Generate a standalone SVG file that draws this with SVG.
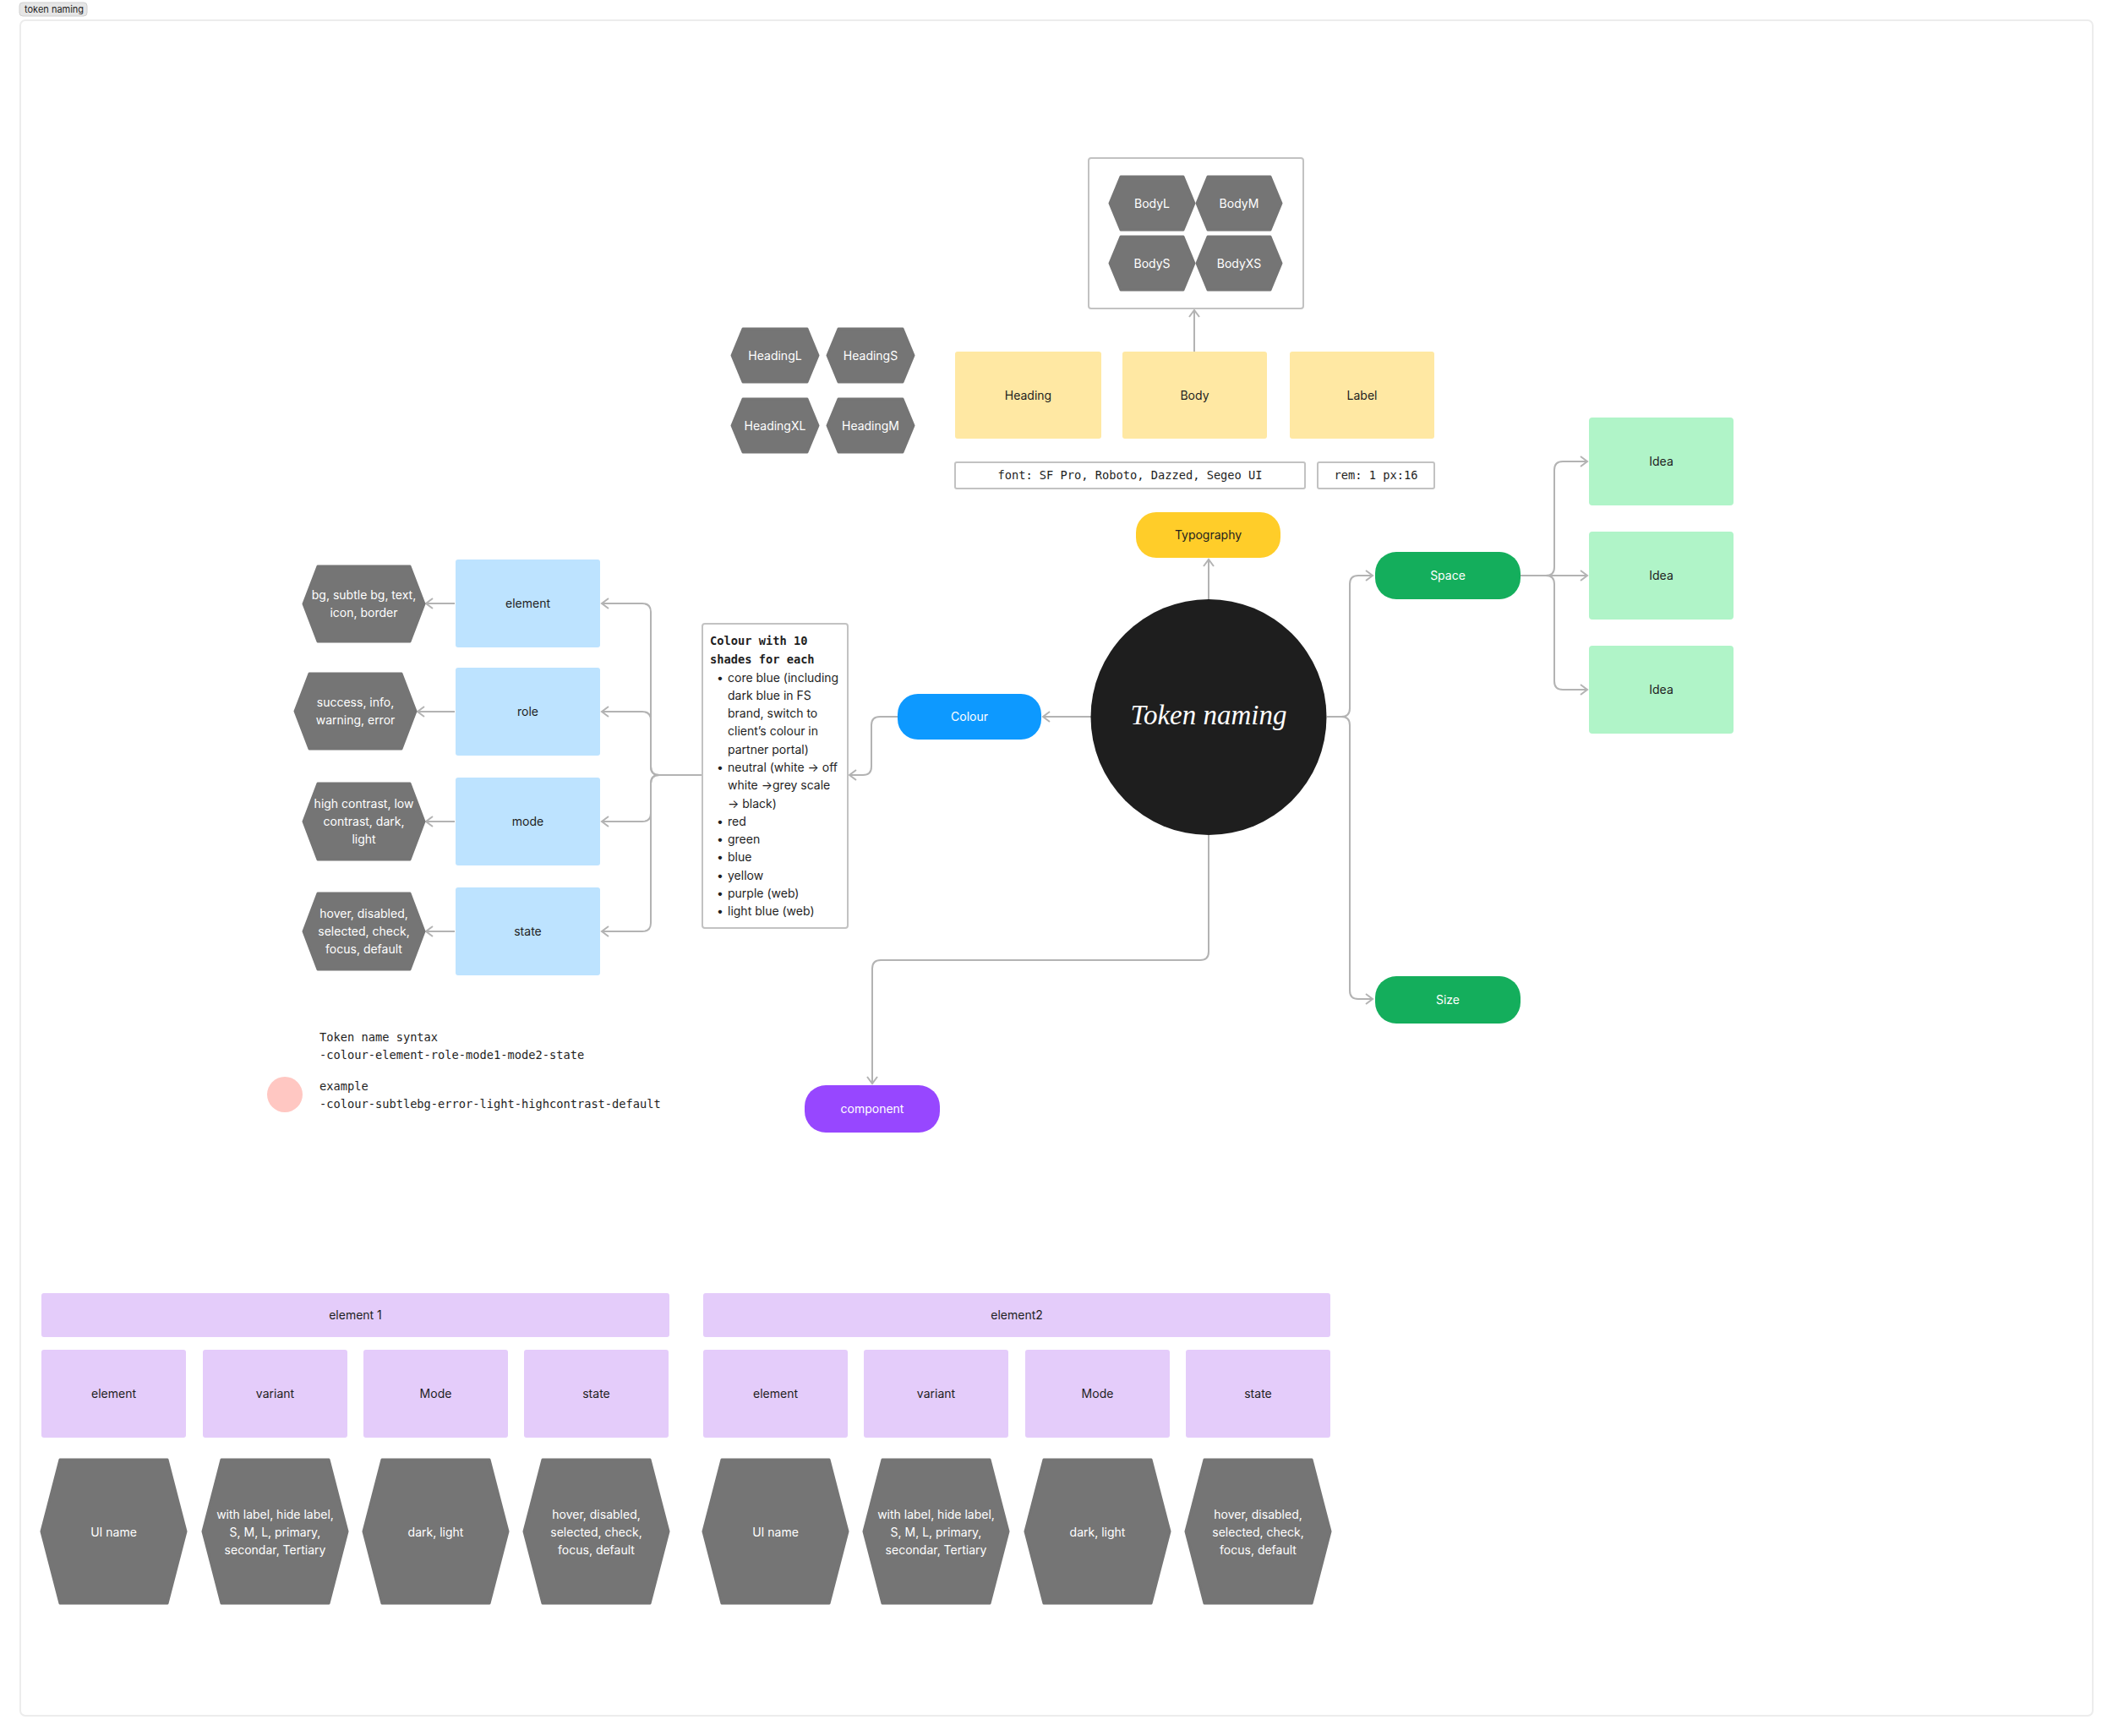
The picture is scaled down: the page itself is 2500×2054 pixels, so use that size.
<svg xmlns="http://www.w3.org/2000/svg" width="2500" height="2054" viewBox="0 0 2500 2054">
<style>
.t{font-family:Inter,"Noto Sans","Liberation Sans",sans-serif;font-size:14px;fill:#1e1e1e;text-anchor:middle}
.w{fill:#ffffff}
.m{font-family:"DejaVu Sans Mono","Liberation Mono",monospace;font-size:13.7px;fill:#1e1e1e}
.mc{text-anchor:middle}
.b{font-weight:bold}
.l{font-family:Inter,"Noto Sans","Liberation Sans",sans-serif;font-size:14px;fill:#1e1e1e}
.hex{fill:#757575;stroke:#757575;stroke-width:3;stroke-linejoin:round}
.blue{fill:#bde3ff}
.yel{fill:#ffe8a3}
.grn{fill:#b0f4c8}
.pur{fill:#e4ccfa}
.box{fill:#ffffff;stroke:#c2c2c2;stroke-width:2}
.c{fill:none;stroke:#b3b3b3;stroke-width:2;marker-end:url(#ah)}
</style>
<defs>
<marker id="ah" markerUnits="userSpaceOnUse" markerWidth="12" markerHeight="14" refX="9" refY="7" orient="auto">
<path d="M1,1 L9,7 L1,13" fill="none" stroke="#b3b3b3" stroke-width="2"/>
</marker>
</defs>
<rect x="0" y="0" width="2500" height="2054" fill="#ffffff"/>
<rect x="24" y="24" width="2452" height="2006" rx="6" fill="#ffffff" stroke="#ececec" stroke-width="2"/>
<g id="frame-tag">
<rect x="23" y="3" width="80" height="16" rx="4" fill="#e6e6e6" stroke="#d0d0d0" stroke-width="1"/>
<text x="29" y="15" class="l" style="font-size:11px">token naming</text>
</g>

<g id="connectors">
<path class="c" d="M1430,709 L1430,662"/>
<path class="c" d="M1413,416 L1413,367"/>
<path class="c" d="M1291,848 L1234,848"/>
<path class="c" d="M1062,848 L1041,848 Q1031,848 1031,858 L1031,907 Q1031,917 1021,917 L1005,917"/>
<path class="c" d="M831,917 L780,917 Q770,917 770,907 L770,724 Q770,714 760,714 L712,714"/>
<path class="c" d="M831,917 L780,917 Q770,917 770,907 L770,852 Q770,842 760,842 L712,842"/>
<path class="c" d="M831,917 L780,917 Q770,917 770,927 L770,962 Q770,972 760,972 L712,972"/>
<path class="c" d="M831,917 L780,917 Q770,917 770,927 L770,1092 Q770,1102 760,1102 L712,1102"/>
<path class="c" d="M538,714 L504,714"/>
<path class="c" d="M538,842 L494,842"/>
<path class="c" d="M538,972 L504,972"/>
<path class="c" d="M538,1102 L504,1102"/>
<path class="c" d="M1570,848 L1587,848 Q1597,848 1597,838 L1597,691 Q1597,681 1607,681 L1624,681"/>
<path class="c" d="M1570,848 L1587,848 Q1597,848 1597,858 L1597,1172 Q1597,1182 1607,1182 L1624,1182"/>
<path class="c" d="M1799,681 L1829,681 Q1839,681 1839,671 L1839,556 Q1839,546 1849,546 L1878,546"/>
<path class="c" d="M1799,681 L1878,681"/>
<path class="c" d="M1799,681 L1829,681 Q1839,681 1839,691 L1839,806 Q1839,816 1849,816 L1878,816"/>
<path class="c" d="M1430,988 L1430,1126 Q1430,1136 1420,1136 L1042,1136 Q1032,1136 1032,1146 L1032,1282"/>
</g>

<g id="body-frame">
<rect x="1288" y="187" width="254" height="178" rx="3" class="box"/>
</g>
<g id="BodyL"><polygon class="hex" points="1313,240.5 1326,209 1400,209 1413,240.5 1400,272 1326,272"/><text x="1363" y="245.5" class="t w">BodyL</text></g>
<g id="BodyM"><polygon class="hex" points="1416,240.5 1429,209 1503,209 1516,240.5 1503,272 1429,272"/><text x="1466" y="245.5" class="t w">BodyM</text></g>
<g id="BodyS"><polygon class="hex" points="1313,311.5 1326,280 1400,280 1413,311.5 1400,343 1326,343"/><text x="1363" y="316.5" class="t w">BodyS</text></g>
<g id="BodyXS"><polygon class="hex" points="1416,311.5 1429,280 1503,280 1516,311.5 1503,343 1429,343"/><text x="1466" y="316.5" class="t w">BodyXS</text></g>

<g id="HeadingL"><polygon class="hex" points="866,420.5 879,389 955,389 968,420.5 955,452 879,452"/><text x="917" y="425.5" class="t w">HeadingL</text></g>
<g id="HeadingS"><polygon class="hex" points="979,420.5 992,389 1068,389 1081,420.5 1068,452 992,452"/><text x="1030" y="425.5" class="t w">HeadingS</text></g>
<g id="HeadingXL"><polygon class="hex" points="866,503.5 879,472 955,472 968,503.5 955,535 879,535"/><text x="917" y="508.5" class="t w">HeadingXL</text></g>
<g id="HeadingM"><polygon class="hex" points="979,503.5 992,472 1068,472 1081,503.5 1068,535 992,535"/><text x="1030" y="508.5" class="t w">HeadingM</text></g>

<g id="Heading"><rect x="1130" y="416" width="173" height="103" rx="3" class="yel"/><text x="1216.5" y="472.5" class="t">Heading</text></g>
<g id="Body"><rect x="1328" y="416" width="171" height="103" rx="3" class="yel"/><text x="1413.5" y="472.5" class="t">Body</text></g>
<g id="Label"><rect x="1526" y="416" width="171" height="103" rx="3" class="yel"/><text x="1611.5" y="472.5" class="t">Label</text></g>

<g id="font-note"><rect x="1130" y="547" width="414" height="31" rx="2" class="box"/><text x="1337" y="567" class="m mc">font: SF Pro, Roboto, Dazzed, Segeo UI</text></g>
<g id="rem-note"><rect x="1559" y="547" width="138" height="31" rx="2" class="box"/><text x="1628" y="567" class="m mc">rem: 1 px:16</text></g>

<g id="Typography"><rect x="1344" y="606" width="171" height="54" rx="24" fill="#ffcd29"/><text x="1429.5" y="638" class="t">Typography</text></g>

<g id="token-naming">
<circle cx="1430" cy="848.5" r="139.5" fill="#1e1e1e"/>
<text x="1430" y="857" style="font-family:'Liberation Serif',serif;font-style:italic;font-size:33px;fill:#ffffff;text-anchor:middle">Token naming</text>
</g>

<g id="Colour"><rect x="1062" y="821" width="170" height="54" rx="24" fill="#0d99ff"/><text x="1147" y="853" class="t w">Colour</text></g>

<g id="colour-list">
<rect x="831" y="738" width="172" height="360" rx="3" class="box"/>
<text x="840" y="763" class="m b">Colour with 10</text>
<text x="840" y="785" class="m b">shades for each</text>
<g class="l">
<text x="848" y="807">•</text><text x="861" y="807">core blue (including</text>
<text x="861" y="828">dark blue in FS</text>
<text x="861" y="849">brand, switch to</text>
<text x="861" y="870">client’s colour in</text>
<text x="861" y="892">partner portal)</text>
<text x="848" y="913">•</text><text x="861" y="913">neutral (white → off</text>
<text x="861" y="934">white →grey scale</text>
<text x="861" y="956">→ black)</text>
<text x="848" y="977">•</text><text x="861" y="977">red</text>
<text x="848" y="998">•</text><text x="861" y="998">green</text>
<text x="848" y="1019">•</text><text x="861" y="1019">blue</text>
<text x="848" y="1041">•</text><text x="861" y="1041">yellow</text>
<text x="848" y="1062">•</text><text x="861" y="1062">purple (web)</text>
<text x="848" y="1083">•</text><text x="861" y="1083">light blue (web)</text>
</g>
</g>

<g id="element"><rect x="539" y="662" width="171" height="104" rx="3" class="blue"/><text x="624.5" y="719" class="t">element</text></g>
<g id="role"><rect x="539" y="790" width="171" height="104" rx="3" class="blue"/><text x="624.5" y="847" class="t">role</text></g>
<g id="mode"><rect x="539" y="920" width="171" height="104" rx="3" class="blue"/><text x="624.5" y="977" class="t">mode</text></g>
<g id="state"><rect x="539" y="1050" width="171" height="104" rx="3" class="blue"/><text x="624.5" y="1107" class="t">state</text></g>

<g id="element-values"><polygon class="hex" points="359,714.5 376,670 485,670 502,714.5 485,759 376,759"/><text x="430.5" y="709" class="t w">bg, subtle bg, text,</text><text x="430.5" y="730" class="t w">icon, border</text></g>
<g id="role-values"><polygon class="hex" points="349,841.5 366,797 475,797 492,841.5 475,886 366,886"/><text x="420.5" y="836" class="t w">success, info,</text><text x="420.5" y="857" class="t w">warning, error</text></g>
<g id="mode-values"><polygon class="hex" points="359,972 376,927 485,927 502,972 485,1017 376,1017"/><text x="430.5" y="956" class="t w">high contrast, low</text><text x="430.5" y="977" class="t w">contrast, dark,</text><text x="430.5" y="998" class="t w">light</text></g>
<g id="state-values"><polygon class="hex" points="359,1102 376,1057 485,1057 502,1102 485,1147 376,1147"/><text x="430.5" y="1086" class="t w">hover, disabled,</text><text x="430.5" y="1107" class="t w">selected, check,</text><text x="430.5" y="1128" class="t w">focus, default</text></g>

<g id="Space"><rect x="1627" y="653" width="172" height="56" rx="25" fill="#14ae5c"/><text x="1713" y="686" class="t w">Space</text></g>
<g id="Size"><rect x="1627" y="1155" width="172" height="56" rx="25" fill="#14ae5c"/><text x="1713" y="1188" class="t w">Size</text></g>
<g id="Idea1"><rect x="1880" y="494" width="171" height="104" rx="4" class="grn"/><text x="1965.5" y="551" class="t">Idea</text></g>
<g id="Idea2"><rect x="1880" y="629" width="171" height="104" rx="4" class="grn"/><text x="1965.5" y="686" class="t">Idea</text></g>
<g id="Idea3"><rect x="1880" y="764" width="171" height="104" rx="4" class="grn"/><text x="1965.5" y="821" class="t">Idea</text></g>

<g id="component"><rect x="952" y="1284" width="160" height="56" rx="25" fill="#9747ff"/><text x="1032" y="1317" class="t w">component</text></g>

<g id="syntax-note">
<text x="378" y="1232" class="m">Token name syntax</text>
<text x="378" y="1253" class="m">-colour-element-role-mode1-mode2-state</text>
<text x="378" y="1290" class="m">example</text>
<text x="378" y="1311" class="m">-colour-subtlebg-error-light-highcontrast-default</text>
</g>
<g id="pink-dot"><circle cx="337" cy="1295" r="21" fill="#ffc7c2"/></g>

<g id="element1-header"><rect x="49" y="1530" width="743" height="52" rx="3" class="pur"/><text x="420.5" y="1561" class="t">element 1</text></g>
<g id="e1-element"><rect x="49" y="1597" width="171" height="104" rx="3" class="pur"/><text x="134.5" y="1654" class="t">element</text></g>
<g id="e1-variant"><rect x="240" y="1597" width="171" height="104" rx="3" class="pur"/><text x="325.5" y="1654" class="t">variant</text></g>
<g id="e1-mode"><rect x="430" y="1597" width="171" height="104" rx="3" class="pur"/><text x="515.5" y="1654" class="t">Mode</text></g>
<g id="e1-state"><rect x="620" y="1597" width="171" height="104" rx="3" class="pur"/><text x="705.5" y="1654" class="t">state</text></g>
<g id="e1-ui"><polygon class="hex" points="49,1812 71,1727 198,1727 220,1812 198,1897 71,1897"/><text x="134.5" y="1818" class="t w">UI name</text></g>
<g id="e1-variants"><polygon class="hex" points="240,1812 262,1727 389,1727 411,1812 389,1897 262,1897"/><text x="325.5" y="1797" class="t w">with label, hide label,</text><text x="325.5" y="1818" class="t w">S, M, L, primary,</text><text x="325.5" y="1839" class="t w">secondar, Tertiary</text></g>
<g id="e1-modes"><polygon class="hex" points="430,1812 452,1727 579,1727 601,1812 579,1897 452,1897"/><text x="515.5" y="1818" class="t w">dark, light</text></g>
<g id="e1-states"><polygon class="hex" points="620,1812 642,1727 769,1727 791,1812 769,1897 642,1897"/><text x="705.5" y="1797" class="t w">hover, disabled,</text><text x="705.5" y="1818" class="t w">selected, check,</text><text x="705.5" y="1839" class="t w">focus, default</text></g>

<g id="element2-header"><rect x="832" y="1530" width="742" height="52" rx="3" class="pur"/><text x="1203" y="1561" class="t">element2</text></g>
<g id="e2-element"><rect x="832" y="1597" width="171" height="104" rx="3" class="pur"/><text x="917.5" y="1654" class="t">element</text></g>
<g id="e2-variant"><rect x="1022" y="1597" width="171" height="104" rx="3" class="pur"/><text x="1107.5" y="1654" class="t">variant</text></g>
<g id="e2-mode"><rect x="1213" y="1597" width="171" height="104" rx="3" class="pur"/><text x="1298.5" y="1654" class="t">Mode</text></g>
<g id="e2-state"><rect x="1403" y="1597" width="171" height="104" rx="3" class="pur"/><text x="1488.5" y="1654" class="t">state</text></g>
<g id="e2-ui"><polygon class="hex" points="832,1812 854,1727 981,1727 1003,1812 981,1897 854,1897"/><text x="917.5" y="1818" class="t w">UI name</text></g>
<g id="e2-variants"><polygon class="hex" points="1022,1812 1044,1727 1171,1727 1193,1812 1171,1897 1044,1897"/><text x="1107.5" y="1797" class="t w">with label, hide label,</text><text x="1107.5" y="1818" class="t w">S, M, L, primary,</text><text x="1107.5" y="1839" class="t w">secondar, Tertiary</text></g>
<g id="e2-modes"><polygon class="hex" points="1213,1812 1235,1727 1362,1727 1384,1812 1362,1897 1235,1897"/><text x="1298.5" y="1818" class="t w">dark, light</text></g>
<g id="e2-states"><polygon class="hex" points="1403,1812 1425,1727 1552,1727 1574,1812 1552,1897 1425,1897"/><text x="1488.5" y="1797" class="t w">hover, disabled,</text><text x="1488.5" y="1818" class="t w">selected, check,</text><text x="1488.5" y="1839" class="t w">focus, default</text></g>
</svg>
